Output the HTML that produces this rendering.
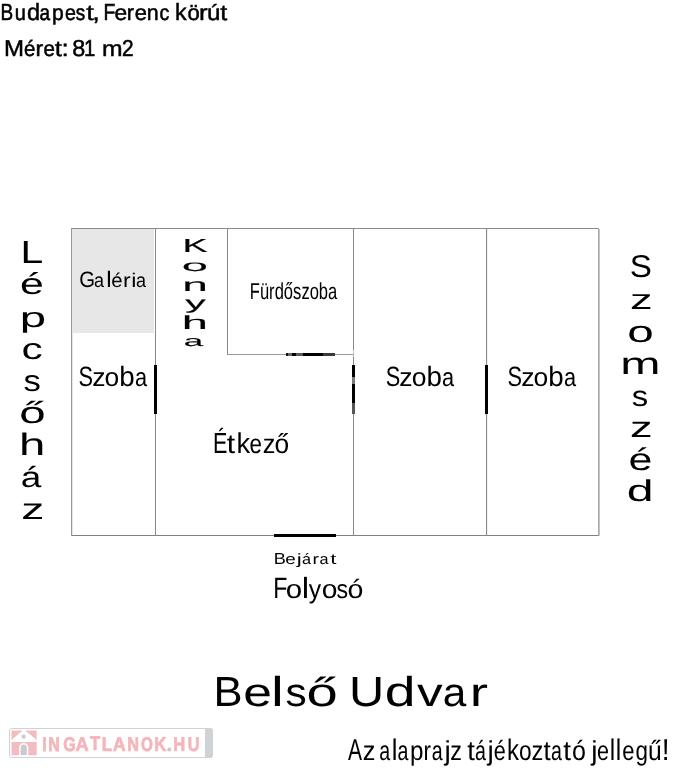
<!DOCTYPE html>
<html><head><meta charset="utf-8"><style>
html,body{margin:0;padding:0;background:#fff;}
body{width:674px;height:768px;position:relative;overflow:hidden;font-family:"Liberation Sans",sans-serif;}
.t{position:absolute;left:0;top:0;white-space:nowrap;transform-origin:0 0;font-family:"Liberation Sans",sans-serif;}
.l{position:absolute;background:#8a8a8a;}
.d{position:absolute;background:#000;}
</style></head><body>
<div style="position:absolute;left:72px;top:229px;width:82px;height:104px;background:#e7e7e7"></div>
<div class="l" style="left:71px;top:228px;width:528px;height:1px"></div>
<div class="l" style="left:71px;top:535px;width:528px;height:1px;background:#808080"></div>
<div class="l" style="left:71px;top:228px;width:1px;height:308px;background:#999"></div>
<div class="l" style="left:72px;top:333px;width:1px;height:202px;background:#e6e6e6"></div>
<div class="l" style="left:598px;top:228px;width:1px;height:308px;background:#aaa"></div>
<div class="l" style="left:599px;top:229px;width:1px;height:307px;background:#c4c4c4"></div>
<div class="l" style="left:155px;top:228px;width:1px;height:308px"></div>
<div class="l" style="left:227px;top:228px;width:1px;height:127px"></div>
<div class="l" style="left:353px;top:228px;width:1px;height:308px"></div>
<div class="l" style="left:353px;top:350px;width:1px;height:4px;background:#c8c8c8"></div>
<div class="l" style="left:353px;top:355px;width:1px;height:2px;background:#c8c8c8"></div>
<div class="l" style="left:486px;top:228px;width:1px;height:308px"></div>
<div class="l" style="left:487px;top:229px;width:1px;height:306px;background:#f0f0f0"></div>
<div class="l" style="left:227px;top:354px;width:127px;height:1px;background:#999"></div>
<div class="d" style="left:154px;top:365px;width:3px;height:49px"></div>
<div class="d" style="left:352px;top:365px;width:3px;height:12px"></div>
<div class="d" style="left:352px;top:377px;width:3px;height:7px;background:#7a7a7a"></div>
<div class="d" style="left:352px;top:384px;width:3px;height:19px"></div>
<div class="d" style="left:352px;top:403px;width:3px;height:11px;background:#555"></div>
<div class="d" style="left:485px;top:365px;width:3px;height:49px"></div>
<div class="d" style="left:286px;top:353px;width:2px;height:3px;background:#111"></div>
<div class="d" style="left:288px;top:353px;width:4px;height:3px;background:#666"></div>
<div class="d" style="left:292px;top:353px;width:4px;height:3px"></div>
<div class="d" style="left:296px;top:353px;width:7px;height:3px;background:#5a5a5a"></div>
<div class="d" style="left:303px;top:353px;width:20px;height:3px"></div>
<div class="d" style="left:323px;top:353px;width:12px;height:3px;background:#3a3a3a"></div>
<div class="d" style="left:274px;top:534px;width:62px;height:3px"></div>
<!-- logo -->
<div style="position:absolute;left:9px;top:728px;width:202px;height:28px;border:1px solid #cfd3d7;border-radius:3px;background:#fff"></div>
<div style="position:absolute;left:205px;top:728px;width:8px;height:30px;background:#cfd2d7;border-radius:0 3px 3px 0"></div>
<svg style="position:absolute;left:0;top:720px" width="60" height="48" viewBox="0 720 60 48">
<polygon points="11.5,730.5 22.6,730.5 11.5,740" fill="#f3bcc0"/>
<polygon points="25.2,730.5 36.7,730.5 36.7,740" fill="#f3bcc0"/>
<path d="M11.5,742 H36.7 V755.2 H28.3 V747.5 A4.6,4.6 0 0 0 19.1,747.5 V755.2 H11.5 Z" fill="#f3bcc0"/>
<path d="M20.6,755 V747.6 A3.1,3.1 0 0 1 26.8,747.6 V755 Z" fill="#c9cbcf"/>
<circle cx="23.7" cy="736.7" r="2.1" fill="#c9cbcf"/>
</svg>
<div id="tx" style="position:absolute;left:0;top:0;width:674px;height:768px;will-change:transform;text-rendering:geometricPrecision">
<span class="t" style="font-size:23.188px;line-height:23.188px;font-weight:normal;color:#000;-webkit-text-stroke:0.61px #000;transform:translate(0.591px,0.756px) scaleX(0.8189)">B</span>
<span class="t" style="font-size:21.887px;line-height:21.887px;font-weight:normal;color:#000;-webkit-text-stroke:0.55px #000;transform:translate(14.787px,1.856px) scaleX(0.9138)">u</span>
<span class="t" style="font-size:23.448px;line-height:23.448px;font-weight:normal;color:#000;-webkit-text-stroke:0.50px #000;transform:translate(27.084px,0.536px) scaleX(1.0046)">d</span>
<span class="t" style="font-size:21.887px;line-height:21.887px;font-weight:normal;color:#000;-webkit-text-stroke:0.58px #000;transform:translate(39.597px,1.856px) scaleX(0.8676)">a</span>
<span class="t" style="font-size:21.887px;line-height:21.887px;font-weight:normal;color:#000;-webkit-text-stroke:0.52px #000;transform:translate(51.956px,1.856px) scaleX(0.9646)">p</span>
<span class="t" style="font-size:21.887px;line-height:21.887px;font-weight:normal;color:#000;-webkit-text-stroke:0.56px #000;transform:translate(65.089px,1.856px) scaleX(0.8941)">e</span>
<span class="t" style="font-size:21.887px;line-height:21.887px;font-weight:normal;color:#000;-webkit-text-stroke:0.58px #000;transform:translate(75.849px,1.856px) scaleX(0.8676)">s</span>
<span class="t" style="font-size:21.887px;line-height:21.887px;font-weight:normal;color:#000;-webkit-text-stroke:0.40px #000;transform:translate(86.144px,1.856px) scaleX(1.2485)">t</span>
<span class="t" style="font-size:23.188px;line-height:23.188px;font-weight:normal;color:#000;-webkit-text-stroke:0.42px #000;transform:translate(92.344px,0.756px) scaleX(1.1784)">,</span>
<span class="t" style="font-size:23.188px;line-height:23.188px;font-weight:normal;color:#000;-webkit-text-stroke:0.60px #000;transform:translate(103.381px,0.756px) scaleX(0.8361)">F</span>
<span class="t" style="font-size:21.887px;line-height:21.887px;font-weight:normal;color:#000;-webkit-text-stroke:0.48px #000;transform:translate(114.615px,1.856px) scaleX(1.0415)">e</span>
<span class="t" style="font-size:21.887px;line-height:21.887px;font-weight:normal;color:#000;-webkit-text-stroke:0.51px #000;transform:translate(126.753px,1.856px) scaleX(0.9869)">r</span>
<span class="t" style="font-size:21.887px;line-height:21.887px;font-weight:normal;color:#000;-webkit-text-stroke:0.50px #000;transform:translate(134.754px,1.856px) scaleX(1.0022)">e</span>
<span class="t" style="font-size:21.887px;line-height:21.887px;font-weight:normal;color:#000;-webkit-text-stroke:0.51px #000;transform:translate(146.739px,1.856px) scaleX(0.9783)">n</span>
<span class="t" style="font-size:21.887px;line-height:21.887px;font-weight:normal;color:#000;-webkit-text-stroke:0.56px #000;transform:translate(159.613px,1.856px) scaleX(0.8925)">c</span>
<span class="t" style="font-size:23.448px;line-height:23.448px;font-weight:normal;color:#000;-webkit-text-stroke:0.50px #000;transform:translate(175.054px,0.536px) scaleX(0.9902)">k</span>
<span class="t" style="font-size:21.887px;line-height:21.887px;font-weight:normal;color:#000;-webkit-text-stroke:0.50px #000;transform:translate(187.491px,1.856px) scaleX(1.0100)">ö</span>
<span class="t" style="font-size:21.887px;line-height:21.887px;font-weight:normal;color:#000;-webkit-text-stroke:0.42px #000;transform:translate(199.097px,1.856px) scaleX(1.1879)">r</span>
<span class="t" style="font-size:21.887px;line-height:21.887px;font-weight:normal;color:#000;-webkit-text-stroke:0.46px #000;transform:translate(207.095px,1.856px) scaleX(1.0987)">ú</span>
<span class="t" style="font-size:21.887px;line-height:21.887px;font-weight:normal;color:#000;-webkit-text-stroke:0.44px #000;transform:translate(220.178px,1.856px) scaleX(1.1467)">t</span>
<span class="t" style="font-size:23.043px;line-height:23.043px;font-weight:normal;color:#000;-webkit-text-stroke:0.48px #000;transform:translate(4.014px,36.878px) scaleX(1.0428)">M</span>
<span class="t" style="font-size:21.887px;line-height:21.887px;font-weight:normal;color:#000;-webkit-text-stroke:0.54px #000;transform:translate(24.037px,37.856px) scaleX(0.9283)">é</span>
<span class="t" style="font-size:21.887px;line-height:21.887px;font-weight:normal;color:#000;-webkit-text-stroke:0.47px #000;transform:translate(35.444px,37.856px) scaleX(1.0600)">r</span>
<span class="t" style="font-size:21.887px;line-height:21.887px;font-weight:normal;color:#000;-webkit-text-stroke:0.54px #000;transform:translate(43.395px,37.856px) scaleX(0.9334)">e</span>
<span class="t" style="font-size:21.887px;line-height:21.887px;font-weight:normal;color:#000;-webkit-text-stroke:0.42px #000;transform:translate(54.640px,37.856px) scaleX(1.1826)">t</span>
<span class="t" style="font-size:23.043px;line-height:23.043px;font-weight:normal;color:#000;-webkit-text-stroke:0.44px #000;transform:translate(61.509px,36.878px) scaleX(1.1420)">:</span>
<span class="t" style="font-size:23.043px;line-height:23.043px;font-weight:normal;color:#000;-webkit-text-stroke:0.49px #000;transform:translate(72.132px,36.878px) scaleX(1.0157)">8</span>
<span class="t" style="font-size:23.043px;line-height:23.043px;font-weight:normal;color:#000;-webkit-text-stroke:0.57px #000;transform:translate(84.075px,36.878px) scaleX(0.8817)">1</span>
<span class="t" style="font-size:21.887px;line-height:21.887px;font-weight:normal;color:#000;-webkit-text-stroke:0.44px #000;transform:translate(102.046px,37.856px) scaleX(1.1292)">m</span>
<span class="t" style="font-size:23.043px;line-height:23.043px;font-weight:normal;color:#000;-webkit-text-stroke:0.55px #000;transform:translate(121.956px,36.878px) scaleX(0.9061)">2</span>
<span class="t" style="font-size:22.319px;line-height:22.319px;font-weight:normal;color:#000;transform:translate(79.216px,268.741px) scaleX(0.9098)">G</span>
<span class="t" style="font-size:19.811px;line-height:19.811px;font-weight:normal;color:#000;transform:translate(93.894px,271.859px) scaleX(0.9106)">a</span>
<span class="t" style="font-size:22.483px;line-height:22.483px;font-weight:normal;color:#000;transform:translate(106.129px,268.602px) scaleX(1.0723)">l</span>
<span class="t" style="font-size:19.811px;line-height:19.811px;font-weight:normal;color:#000;transform:translate(111.237px,271.859px) scaleX(1.0312)">é</span>
<span class="t" style="font-size:19.811px;line-height:19.811px;font-weight:normal;color:#000;transform:translate(122.914px,271.859px) scaleX(1.1509)">r</span>
<span class="t" style="font-size:19.811px;line-height:19.811px;font-weight:normal;color:#000;transform:translate(131.368px,271.859px) scaleX(1.1778)">i</span>
<span class="t" style="font-size:19.811px;line-height:19.811px;font-weight:normal;color:#000;transform:translate(136.118px,271.859px) scaleX(0.9106)">a</span>
<span class="t" style="font-size:27.826px;line-height:27.826px;font-weight:normal;color:#000;transform:translate(78.614px,363.387px) scaleX(0.7817)">S</span>
<span class="t" style="font-size:26.038px;line-height:26.038px;font-weight:normal;color:#000;transform:translate(92.128px,363.898px) scaleX(1.0210)">z</span>
<span class="t" style="font-size:26.038px;line-height:26.038px;font-weight:normal;color:#000;transform:translate(104.455px,363.898px) scaleX(1.0188)">o</span>
<span class="t" style="font-size:27.862px;line-height:27.862px;font-weight:normal;color:#000;transform:translate(119.307px,363.357px) scaleX(0.9970)">b</span>
<span class="t" style="font-size:26.038px;line-height:26.038px;font-weight:normal;color:#000;transform:translate(134.899px,363.898px) scaleX(0.8354)">a</span>
<span class="t" style="font-size:27.826px;line-height:27.826px;font-weight:normal;color:#000;transform:translate(385.753px,363.387px) scaleX(0.7817)">S</span>
<span class="t" style="font-size:26.038px;line-height:26.038px;font-weight:normal;color:#000;transform:translate(399.152px,363.898px) scaleX(1.0210)">z</span>
<span class="t" style="font-size:26.038px;line-height:26.038px;font-weight:normal;color:#000;transform:translate(411.689px,363.898px) scaleX(1.0188)">o</span>
<span class="t" style="font-size:27.862px;line-height:27.862px;font-weight:normal;color:#000;transform:translate(426.554px,363.357px) scaleX(0.9970)">b</span>
<span class="t" style="font-size:26.038px;line-height:26.038px;font-weight:normal;color:#000;transform:translate(442.123px,363.898px) scaleX(0.8354)">a</span>
<span class="t" style="font-size:27.826px;line-height:27.826px;font-weight:normal;color:#000;transform:translate(507.614px,363.387px) scaleX(0.7817)">S</span>
<span class="t" style="font-size:26.038px;line-height:26.038px;font-weight:normal;color:#000;transform:translate(521.128px,363.898px) scaleX(1.0210)">z</span>
<span class="t" style="font-size:26.038px;line-height:26.038px;font-weight:normal;color:#000;transform:translate(533.455px,363.898px) scaleX(1.0188)">o</span>
<span class="t" style="font-size:27.862px;line-height:27.862px;font-weight:normal;color:#000;transform:translate(548.307px,363.357px) scaleX(0.9970)">b</span>
<span class="t" style="font-size:26.038px;line-height:26.038px;font-weight:normal;color:#000;transform:translate(563.899px,363.898px) scaleX(0.8354)">a</span>
<span class="t" style="font-size:22.899px;line-height:22.899px;font-weight:normal;color:#000;transform:translate(249.812px,280.451px) scaleX(0.7231)">F</span>
<span class="t" style="font-size:23.019px;line-height:23.019px;font-weight:normal;color:#000;transform:translate(259.973px,280.349px) scaleX(0.7193)">ü</span>
<span class="t" style="font-size:23.019px;line-height:23.019px;font-weight:normal;color:#000;transform:translate(269.115px,280.349px) scaleX(0.7193)">r</span>
<span class="t" style="font-size:23.310px;line-height:23.310px;font-weight:normal;color:#000;transform:translate(274.716px,280.103px) scaleX(0.7103)">d</span>
<span class="t" style="font-size:23.019px;line-height:23.019px;font-weight:normal;color:#000;transform:translate(283.852px,280.349px) scaleX(0.7193)">ő</span>
<span class="t" style="font-size:23.019px;line-height:23.019px;font-weight:normal;color:#000;transform:translate(293.031px,280.349px) scaleX(0.7193)">s</span>
<span class="t" style="font-size:23.019px;line-height:23.019px;font-weight:normal;color:#000;transform:translate(301.499px,280.349px) scaleX(0.7193)">z</span>
<span class="t" style="font-size:23.019px;line-height:23.019px;font-weight:normal;color:#000;transform:translate(309.646px,280.349px) scaleX(0.7193)">o</span>
<span class="t" style="font-size:23.310px;line-height:23.310px;font-weight:normal;color:#000;transform:translate(318.832px,280.103px) scaleX(0.7103)">b</span>
<span class="t" style="font-size:23.019px;line-height:23.019px;font-weight:normal;color:#000;transform:translate(328.022px,280.349px) scaleX(0.7193)">a</span>
<span class="t" style="font-size:29.130px;line-height:29.130px;font-weight:normal;color:#000;transform:translate(212.956px,430.385px) scaleX(0.7408)">É</span>
<span class="t" style="font-size:27.170px;line-height:27.170px;font-weight:normal;color:#000;transform:translate(226.729px,430.042px) scaleX(1.1114)">t</span>
<span class="t" style="font-size:28.552px;line-height:28.552px;font-weight:normal;color:#000;transform:translate(236.389px,429.874px) scaleX(0.9581)">k</span>
<span class="t" style="font-size:27.170px;line-height:27.170px;font-weight:normal;color:#000;transform:translate(249.609px,430.042px) scaleX(0.8232)">e</span>
<span class="t" style="font-size:27.170px;line-height:27.170px;font-weight:normal;color:#000;transform:translate(262.676px,430.042px) scaleX(0.9336)">z</span>
<span class="t" style="font-size:27.170px;line-height:27.170px;font-weight:normal;color:#000;transform:translate(274.411px,430.042px) scaleX(0.9686)">ő</span>
<span class="t" style="font-size:16.087px;line-height:16.087px;font-weight:normal;color:#000;transform:translate(273.681px,551.407px) scaleX(1.1271)">B</span>
<span class="t" style="font-size:14.906px;line-height:14.906px;font-weight:normal;color:#000;transform:translate(285.133px,553.405px) scaleX(1.2696)">e</span>
<span class="t" style="font-size:14.906px;line-height:14.906px;font-weight:normal;color:#000;transform:translate(296.679px,553.405px) scaleX(1.4982)">j</span>
<span class="t" style="font-size:14.906px;line-height:14.906px;font-weight:normal;color:#000;transform:translate(302.071px,553.405px) scaleX(1.0918)">á</span>
<span class="t" style="font-size:14.906px;line-height:14.906px;font-weight:normal;color:#000;transform:translate(312.382px,553.405px) scaleX(1.2881)">r</span>
<span class="t" style="font-size:14.906px;line-height:14.906px;font-weight:normal;color:#000;transform:translate(319.551px,553.405px) scaleX(1.0918)">a</span>
<span class="t" style="font-size:14.906px;line-height:14.906px;font-weight:normal;color:#000;transform:translate(330.158px,553.405px) scaleX(1.4982)">t</span>
<span class="t" style="font-size:29.420px;line-height:29.420px;font-weight:normal;color:#000;transform:translate(273.288px,574.340px) scaleX(0.7863)">F</span>
<span class="t" style="font-size:26.226px;line-height:26.226px;font-weight:normal;color:#000;transform:translate(285.825px,576.039px) scaleX(1.1238)">o</span>
<span class="t" style="font-size:29.241px;line-height:29.241px;font-weight:normal;color:#000;transform:translate(301.774px,575.491px) scaleX(1.1384)">l</span>
<span class="t" style="font-size:26.226px;line-height:26.226px;font-weight:normal;color:#000;transform:translate(308.820px,576.039px) scaleX(0.9416)">y</span>
<span class="t" style="font-size:26.226px;line-height:26.226px;font-weight:normal;color:#000;transform:translate(321.816px,576.039px) scaleX(1.0757)">o</span>
<span class="t" style="font-size:26.226px;line-height:26.226px;font-weight:normal;color:#000;transform:translate(336.562px,576.039px) scaleX(0.8820)">s</span>
<span class="t" style="font-size:26.226px;line-height:26.226px;font-weight:normal;color:#000;transform:translate(347.509px,576.039px) scaleX(1.0917)">ó</span>
<span class="t" style="font-size:42.029px;line-height:42.029px;font-weight:normal;color:#000;transform:translate(213.375px,670.986px) scaleX(1.0362)">B</span>
<span class="t" style="font-size:40.000px;line-height:40.000px;font-weight:normal;color:#000;transform:translate(243.259px,672.700px) scaleX(1.2903)">e</span>
<span class="t" style="font-size:41.793px;line-height:41.793px;font-weight:normal;color:#000;transform:translate(270.982px,671.185px) scaleX(1.3825)">l</span>
<span class="t" style="font-size:40.000px;line-height:40.000px;font-weight:normal;color:#000;transform:translate(285.379px,672.700px) scaleX(1.0581)">s</span>
<span class="t" style="font-size:40.000px;line-height:40.000px;font-weight:normal;color:#000;transform:translate(306.387px,672.700px) scaleX(1.4053)">ő</span>
<span class="t" style="font-size:42.029px;line-height:42.029px;font-weight:normal;color:#000;transform:translate(349.114px,670.986px) scaleX(1.1604)">U</span>
<span class="t" style="font-size:41.793px;line-height:41.793px;font-weight:normal;color:#000;transform:translate(384.833px,671.185px) scaleX(1.3240)">d</span>
<span class="t" style="font-size:40.000px;line-height:40.000px;font-weight:normal;color:#000;transform:translate(416.955px,672.700px) scaleX(1.2857)">v</span>
<span class="t" style="font-size:40.000px;line-height:40.000px;font-weight:normal;color:#000;transform:translate(442.716px,672.700px) scaleX(1.0581)">a</span>
<span class="t" style="font-size:40.000px;line-height:40.000px;font-weight:normal;color:#000;transform:translate(469.791px,672.700px) scaleX(1.3700)">r</span>
<span class="t" style="font-size:30.145px;line-height:30.145px;font-weight:normal;color:#000;transform:translate(347.896px,736.328px) scaleX(0.6986)">A</span>
<span class="t" style="font-size:27.358px;line-height:27.358px;font-weight:normal;color:#000;transform:translate(362.670px,736.682px) scaleX(0.9272)">z</span>
<span class="t" style="font-size:27.358px;line-height:27.358px;font-weight:normal;color:#000;transform:translate(379.294px,736.682px) scaleX(0.7166)">a</span>
<span class="t" style="font-size:29.793px;line-height:29.793px;font-weight:normal;color:#000;transform:translate(391.844px,735.625px) scaleX(0.8578)">l</span>
<span class="t" style="font-size:27.358px;line-height:27.358px;font-weight:normal;color:#000;transform:translate(397.535px,736.682px) scaleX(0.7166)">a</span>
<span class="t" style="font-size:27.358px;line-height:27.358px;font-weight:normal;color:#000;transform:translate(409.887px,736.682px) scaleX(0.8854)">p</span>
<span class="t" style="font-size:27.358px;line-height:27.358px;font-weight:normal;color:#000;transform:translate(423.606px,736.682px) scaleX(0.8188)">r</span>
<span class="t" style="font-size:27.358px;line-height:27.358px;font-weight:normal;color:#000;transform:translate(431.870px,736.682px) scaleX(0.7166)">a</span>
<span class="t" style="font-size:27.358px;line-height:27.358px;font-weight:normal;color:#000;transform:translate(444.580px,736.682px) scaleX(1.0312)">j</span>
<span class="t" style="font-size:27.358px;line-height:27.358px;font-weight:normal;color:#000;transform:translate(450.301px,736.682px) scaleX(0.8558)">z</span>
<span class="t" style="font-size:27.358px;line-height:27.358px;font-weight:normal;color:#000;transform:translate(467.223px,736.682px) scaleX(1.0034)">t</span>
<span class="t" style="font-size:27.358px;line-height:27.358px;font-weight:normal;color:#000;transform:translate(475.087px,736.682px) scaleX(0.7166)">á</span>
<span class="t" style="font-size:27.358px;line-height:27.358px;font-weight:normal;color:#000;transform:translate(487.585px,736.682px) scaleX(1.0312)">j</span>
<span class="t" style="font-size:27.358px;line-height:27.358px;font-weight:normal;color:#000;transform:translate(493.776px,736.682px) scaleX(0.7861)">é</span>
<span class="t" style="font-size:29.793px;line-height:29.793px;font-weight:normal;color:#000;transform:translate(506.879px,735.625px) scaleX(0.8025)">k</span>
<span class="t" style="font-size:27.358px;line-height:27.358px;font-weight:normal;color:#000;transform:translate(518.950px,736.682px) scaleX(0.8311)">o</span>
<span class="t" style="font-size:27.358px;line-height:27.358px;font-weight:normal;color:#000;transform:translate(531.465px,736.682px) scaleX(0.8648)">z</span>
<span class="t" style="font-size:27.358px;line-height:27.358px;font-weight:normal;color:#000;transform:translate(543.577px,736.682px) scaleX(0.9460)">t</span>
<span class="t" style="font-size:27.358px;line-height:27.358px;font-weight:normal;color:#000;transform:translate(551.075px,736.682px) scaleX(0.7166)">a</span>
<span class="t" style="font-size:27.358px;line-height:27.358px;font-weight:normal;color:#000;transform:translate(563.223px,736.682px) scaleX(1.0177)">t</span>
<span class="t" style="font-size:27.358px;line-height:27.358px;font-weight:normal;color:#000;transform:translate(571.976px,736.682px) scaleX(0.9157)">ó</span>
<span class="t" style="font-size:27.358px;line-height:27.358px;font-weight:normal;color:#000;transform:translate(591.354px,736.682px) scaleX(1.0312)">j</span>
<span class="t" style="font-size:27.358px;line-height:27.358px;font-weight:normal;color:#000;transform:translate(597.015px,736.682px) scaleX(0.7861)">e</span>
<span class="t" style="font-size:29.793px;line-height:29.793px;font-weight:normal;color:#000;transform:translate(609.686px,735.625px) scaleX(0.8205)">l</span>
<span class="t" style="font-size:29.793px;line-height:29.793px;font-weight:normal;color:#000;transform:translate(615.686px,735.625px) scaleX(0.8205)">l</span>
<span class="t" style="font-size:27.358px;line-height:27.358px;font-weight:normal;color:#000;transform:translate(622.138px,736.682px) scaleX(0.8018)">e</span>
<span class="t" style="font-size:27.358px;line-height:27.358px;font-weight:normal;color:#000;transform:translate(635.387px,736.682px) scaleX(0.8204)">g</span>
<span class="t" style="font-size:27.358px;line-height:27.358px;font-weight:normal;color:#000;transform:translate(648.100px,736.682px) scaleX(0.9016)">ű</span>
<span class="t" style="font-size:30.145px;line-height:30.145px;font-weight:normal;color:#000;transform:translate(661.783px,736.328px) scaleX(0.9359)">!</span>
<span class="t" style="font-size:19.855px;line-height:19.855px;font-weight:bold;color:#f3b6bb;-webkit-text-stroke:0.75px #f3b6bb;transform:translate(42.159px,736.322px) scaleX(0.7989)">I</span>
<span class="t" style="font-size:19.855px;line-height:19.855px;font-weight:bold;color:#f3b6bb;-webkit-text-stroke:0.75px #f3b6bb;transform:translate(48.164px,736.322px) scaleX(0.8024)">N</span>
<span class="t" style="font-size:19.855px;line-height:19.855px;font-weight:bold;color:#f3b6bb;-webkit-text-stroke:0.74px #f3b6bb;transform:translate(63.128px,736.322px) scaleX(0.8133)">G</span>
<span class="t" style="font-size:19.855px;line-height:19.855px;font-weight:bold;color:#f3b6bb;-webkit-text-stroke:0.65px #f3b6bb;transform:translate(75.407px,736.322px) scaleX(0.9246)">A</span>
<span class="t" style="font-size:19.855px;line-height:19.855px;font-weight:bold;color:#f3b6bb;-webkit-text-stroke:0.72px #f3b6bb;transform:translate(89.884px,735.322px) scaleX(0.8366)">T</span>
<span class="t" style="font-size:19.855px;line-height:19.855px;font-weight:bold;color:#f3b6bb;-webkit-text-stroke:0.71px #f3b6bb;transform:translate(101.764px,736.322px) scaleX(0.8508)">L</span>
<span class="t" style="font-size:19.855px;line-height:19.855px;font-weight:bold;color:#f3b6bb;-webkit-text-stroke:0.67px #f3b6bb;transform:translate(112.721px,736.322px) scaleX(0.9021)">A</span>
<span class="t" style="font-size:19.855px;line-height:19.855px;font-weight:bold;color:#f3b6bb;-webkit-text-stroke:0.73px #f3b6bb;transform:translate(127.136px,736.322px) scaleX(0.8195)">N</span>
<span class="t" style="font-size:19.855px;line-height:19.855px;font-weight:bold;color:#f3b6bb;-webkit-text-stroke:0.78px #f3b6bb;transform:translate(140.878px,736.322px) scaleX(0.7682)">O</span>
<span class="t" style="font-size:19.855px;line-height:19.855px;font-weight:bold;color:#f3b6bb;-webkit-text-stroke:0.70px #f3b6bb;transform:translate(154.353px,736.322px) scaleX(0.8511)">K</span>
<span class="t" style="font-size:19.855px;line-height:19.855px;font-weight:bold;color:#c5c9ce;-webkit-text-stroke:0.57px #c5c9ce;transform:translate(166.591px,736.322px) scaleX(1.0476)">.</span>
<span class="t" style="font-size:19.855px;line-height:19.855px;font-weight:bold;color:#f3b6bb;-webkit-text-stroke:0.72px #f3b6bb;transform:translate(173.251px,736.322px) scaleX(0.8366)">H</span>
<span class="t" style="font-size:19.855px;line-height:19.855px;font-weight:bold;color:#f3b6bb;-webkit-text-stroke:0.73px #f3b6bb;transform:translate(187.864px,736.322px) scaleX(0.8226)">U</span>
<span class="t" style="font-size:31.884px;line-height:31.884px;font-weight:normal;color:#000;transform:translate(20.466px,237.058px) scaleX(1.2827)">L</span>
<span class="t" style="font-size:29.799px;line-height:29.799px;font-weight:normal;color:#000;transform:translate(20.049px,269.722px) scaleX(1.4362)">é</span>
<span class="t" style="font-size:28.054px;line-height:28.054px;font-weight:normal;color:#000;transform:translate(19.701px,304.103px) scaleX(1.6872)">p</span>
<span class="t" style="font-size:29.636px;line-height:29.636px;font-weight:normal;color:#000;transform:translate(21.424px,334.961px) scaleX(1.4321)">c</span>
<span class="t" style="font-size:29.908px;line-height:29.908px;font-weight:normal;color:#000;transform:translate(23.543px,366.628px) scaleX(1.1606)">s</span>
<span class="t" style="font-size:30.400px;line-height:30.400px;font-weight:normal;color:#000;transform:translate(19.169px,398.108px) scaleX(1.5582)">ő</span>
<span class="t" style="font-size:31.034px;line-height:31.034px;font-weight:normal;color:#000;transform:translate(19.121px,429.476px) scaleX(1.5267)">h</span>
<span class="t" style="font-size:28.725px;line-height:28.725px;font-weight:normal;color:#000;transform:translate(20.660px,464.240px) scaleX(1.2867)">á</span>
<span class="t" style="font-size:29.528px;line-height:29.528px;font-weight:normal;color:#000;transform:translate(21.216px,494.799px) scaleX(1.5611)">z</span>
<span class="t" style="font-size:31.549px;line-height:31.549px;font-weight:normal;color:#000;transform:translate(629.659px,250.625px) scaleX(1.0529)">S</span>
<span class="t" style="font-size:28.113px;line-height:28.113px;font-weight:normal;color:#000;transform:translate(629.901px,286.344px) scaleX(1.6050)">z</span>
<span class="t" style="font-size:30.000px;line-height:30.000px;font-weight:normal;color:#000;transform:translate(627.144px,318.350px) scaleX(1.5860)">o</span>
<span class="t" style="font-size:30.556px;line-height:30.556px;font-weight:normal;color:#000;transform:translate(620.343px,349.281px) scaleX(1.5803)">m</span>
<span class="t" style="font-size:28.716px;line-height:28.716px;font-weight:normal;color:#000;transform:translate(631.799px,383.198px) scaleX(1.1448)">s</span>
<span class="t" style="font-size:28.679px;line-height:28.679px;font-weight:normal;color:#000;transform:translate(629.945px,413.966px) scaleX(1.5733)">z</span>
<span class="t" style="font-size:31.007px;line-height:31.007px;font-weight:normal;color:#000;transform:translate(628.496px,443.589px) scaleX(1.3871)">é</span>
<span class="t" style="font-size:30.204px;line-height:30.204px;font-weight:normal;color:#000;transform:translate(626.757px,476.576px) scaleX(1.5965)">d</span>
<span class="t" style="font-size:18.770px;line-height:18.770px;font-weight:normal;color:#000;-webkit-text-stroke:0.15px #000;transform:translate(182.514px,236.565px) scaleX(2.0106)">K</span>
<span class="t" style="font-size:15.817px;line-height:15.817px;font-weight:normal;color:#000;-webkit-text-stroke:0.10px #000;transform:translate(181.654px,259.326px) scaleX(2.9814)">o</span>
<span class="t" style="font-size:17.933px;line-height:17.933px;font-weight:normal;color:#000;-webkit-text-stroke:0.12px #000;transform:translate(182.230px,277.389px) scaleX(2.5717)">n</span>
<span class="t" style="font-size:17.783px;line-height:17.783px;font-weight:normal;color:#000;-webkit-text-stroke:0.13px #000;transform:translate(185.217px,295.174px) scaleX(2.3067)">y</span>
<span class="t" style="font-size:19.007px;line-height:19.007px;font-weight:normal;color:#000;-webkit-text-stroke:0.12px #000;transform:translate(181.718px,313.579px) scaleX(2.4803)">h</span>
<span class="t" style="font-size:14.859px;line-height:14.859px;font-weight:normal;color:#000;-webkit-text-stroke:0.13px #000;transform:translate(183.858px,334.832px) scaleX(2.3489)">a</span>
</div>
</body></html>
